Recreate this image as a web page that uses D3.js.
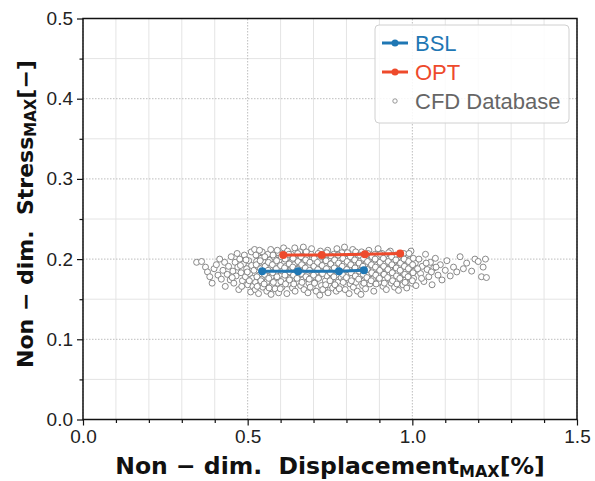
<!DOCTYPE html>
<html>
<head>
<meta charset="utf-8">
<script src="https://cdn.jsdelivr.net/npm/d3@7"></script>
<style>
  body { margin: 0; background: #fff; }
  svg { display: block; }
  .tick text { font-family: "Liberation Sans", Arial, sans-serif; font-size: 19px; fill: #222; }
</style>
</head>
<body>
<div id="main"></div>
<script>
// size of the page and the plot area
const width = 595;
const height = 481;
const margin = {left: 83, right: 18, top: 18.5, bottom: 61.5};

// tick values
const xMajor = [0.0, 0.5, 1.0, 1.5];
const xMinor = [0.1, 0.2, 0.3, 0.4, 0.6, 0.7, 0.8, 0.9, 1.1, 1.2, 1.3, 1.4];
const yMajor = [0.0, 0.1, 0.2, 0.3, 0.4, 0.5];
const yMinor = [0.05, 0.15, 0.25, 0.35, 0.45];

// baseline and optimised designs
const bslX = [0.544, 0.653, 0.777, 0.853];
const bslY = [0.185, 0.185, 0.185, 0.186];
const optX = [0.608, 0.725, 0.856, 0.963];
const optY = [0.205, 0.205, 0.206, 0.207];

// CFD database samples [displacement, stress]
const cfdLeft = [
  [0.345,0.196],[0.36,0.197],[0.372,0.190],[0.378,0.184],[0.385,0.178],[0.392,0.170],[0.398,0.188],
  [0.405,0.193],[0.41,0.180],[0.415,0.200],[0.42,0.175],[0.425,0.186],[0.43,0.196],[0.432,0.166],
  [0.438,0.181],[0.442,0.191],[0.447,0.174],[0.45,0.203],[0.455,0.185],[0.458,0.170],[0.462,0.196],
  [0.465,0.179],[0.47,0.190],[0.473,0.162],[0.476,0.200],[0.48,0.183],[0.484,0.173],[0.487,0.194],
  [0.49,0.205],[0.493,0.178],[0.497,0.188],[0.5,0.168],[0.503,0.198],[0.506,0.182],[0.509,0.159],
  [0.512,0.192],[0.515,0.176],[0.468,0.207],[0.482,0.166],[0.495,0.199],[0.505,0.173],[0.511,0.209],
  [0.453,0.177],[0.478,0.192],[0.499,0.184],[0.516,0.166]
];
const cfdCore = [
  [0.521,0.212],[0.524,0.171],[0.519,0.186],[0.527,0.197],[0.523,0.162],
  [0.531,0.204],[0.535,0.180],[0.530,0.191],[0.537,0.168],[0.533,0.157],
  [0.544,0.209],[0.547,0.186],[0.542,0.175],[0.549,0.196],[0.546,0.165],[0.541,0.201],
  [0.556,0.192],[0.559,0.172],[0.554,0.183],[0.561,0.206],[0.558,0.160],
  [0.568,0.199],[0.572,0.178],[0.566,0.188],[0.574,0.167],[0.570,0.212],[0.571,0.156],
  [0.581,0.194],[0.584,0.173],[0.579,0.203],[0.586,0.184],[0.583,0.163],
  [0.593,0.208],[0.597,0.189],[0.591,0.170],[0.598,0.179],[0.596,0.199],[0.594,0.158],
  [0.606,0.185],[0.609,0.214],[0.604,0.165],[0.611,0.195],[0.608,0.175],
  [0.618,0.201],[0.622,0.181],[0.616,0.191],[0.624,0.169],[0.621,0.210],[0.619,0.157],
  [0.631,0.187],[0.634,0.197],[0.629,0.176],[0.636,0.164],[0.633,0.206],
  [0.643,0.214],[0.647,0.182],[0.641,0.193],[0.649,0.171],[0.646,0.202],[0.644,0.160],
  [0.656,0.189],[0.659,0.178],[0.654,0.199],[0.661,0.167],[0.658,0.209],
  [0.668,0.195],[0.672,0.184],[0.666,0.174],[0.674,0.204],[0.671,0.162],[0.669,0.215],
  [0.681,0.180],[0.684,0.191],[0.679,0.201],[0.686,0.170],[0.683,0.158],
  [0.693,0.206],[0.697,0.186],[0.691,0.176],[0.698,0.196],[0.696,0.165],[0.694,0.213],
  [0.706,0.182],[0.709,0.192],[0.704,0.171],[0.711,0.202],[0.708,0.160],
  [0.718,0.198],[0.722,0.188],[0.716,0.177],[0.724,0.167],[0.721,0.210],[0.719,0.155],
  [0.731,0.184],[0.734,0.194],[0.729,0.204],[0.736,0.173],[0.733,0.163],
  [0.743,0.211],[0.747,0.190],[0.741,0.179],[0.749,0.200],[0.746,0.168],[0.744,0.158],
  [0.756,0.186],[0.759,0.196],[0.754,0.175],[0.761,0.206],[0.758,0.164],
  [0.768,0.202],[0.772,0.181],[0.766,0.192],[0.774,0.171],[0.771,0.213],[0.769,0.160],
  [0.781,0.188],[0.784,0.177],[0.779,0.198],[0.786,0.208],[0.783,0.166],
  [0.793,0.194],[0.797,0.184],[0.791,0.173],[0.798,0.204],[0.796,0.162],[0.794,0.215],
  [0.806,0.180],[0.809,0.190],[0.804,0.200],[0.811,0.169],[0.808,0.157],
  [0.818,0.207],[0.822,0.186],[0.816,0.176],[0.824,0.196],[0.821,0.165],[0.819,0.212],
  [0.831,0.182],[0.834,0.192],[0.829,0.171],[0.836,0.202],[0.833,0.160],
  [0.843,0.198],[0.847,0.188],[0.841,0.178],[0.849,0.167],[0.846,0.209],[0.844,0.156],
  [0.856,0.184],[0.859,0.194],[0.854,0.204],[0.861,0.173],[0.858,0.163],
  [0.868,0.211],[0.872,0.190],[0.866,0.180],[0.874,0.200],[0.871,0.169],
  [0.881,0.186],[0.884,0.196],[0.879,0.175],[0.886,0.206],[0.883,0.160],
  [0.893,0.202],[0.897,0.182],[0.891,0.192],[0.898,0.171],[0.896,0.213],
  [0.906,0.188],[0.909,0.178],[0.904,0.198],[0.911,0.166],[0.908,0.207],
  [0.918,0.194],[0.922,0.184],[0.916,0.174],[0.924,0.203],[0.921,0.162],
  [0.931,0.180],[0.934,0.190],[0.929,0.200],[0.936,0.170],[0.933,0.210],
  [0.943,0.196],[0.947,0.186],[0.941,0.176],[0.949,0.205],[0.946,0.165],
  [0.956,0.183],[0.959,0.192],[0.954,0.172],[0.961,0.201],[0.958,0.161],
  [0.968,0.197],[0.972,0.187],[0.966,0.177],[0.974,0.207],[0.971,0.168],
  [0.981,0.184],[0.984,0.193],[0.979,0.174],[0.986,0.202],[0.983,0.164],
  [0.993,0.190],[0.997,0.180],[0.991,0.199],[0.998,0.170],[0.996,0.210],
  [1.006,0.185],[1.009,0.195],[1.004,0.176],[1.011,0.167]
];
const cfdCoreB = [
  [0.526,0.193],[0.528,0.178],[0.525,0.205],[0.529,0.166],
  [0.539,0.188],[0.540,0.173],[0.538,0.198],[0.536,0.211],
  [0.551,0.181],[0.552,0.203],[0.550,0.169],[0.553,0.191],
  [0.563,0.196],[0.564,0.176],[0.562,0.186],[0.565,0.164],
  [0.576,0.183],[0.577,0.205],[0.575,0.193],[0.578,0.171],
  [0.588,0.198],[0.589,0.178],[0.587,0.188],[0.590,0.211],
  [0.600,0.192],[0.601,0.172],[0.602,0.203],[0.599,0.163],
  [0.613,0.180],[0.614,0.200],[0.612,0.189],[0.615,0.169],
  [0.626,0.194],[0.627,0.174],[0.625,0.206],[0.628,0.184],
  [0.638,0.201],[0.639,0.180],[0.637,0.190],[0.640,0.169],
  [0.651,0.187],[0.652,0.207],[0.650,0.176],[0.653,0.197],
  [0.663,0.182],[0.664,0.193],[0.662,0.203],[0.665,0.171],
  [0.676,0.199],[0.677,0.178],[0.675,0.189],[0.678,0.209],
  [0.688,0.186],[0.689,0.196],[0.687,0.175],[0.690,0.165],
  [0.701,0.191],[0.702,0.201],[0.700,0.180],[0.703,0.170],
  [0.713,0.187],[0.714,0.207],[0.712,0.196],[0.715,0.176],
  [0.726,0.192],[0.727,0.182],[0.725,0.203],[0.728,0.162],
  [0.738,0.198],[0.739,0.188],[0.737,0.168],[0.740,0.208],
  [0.751,0.183],[0.752,0.194],[0.750,0.173],[0.753,0.204],
  [0.763,0.189],[0.764,0.199],[0.762,0.178],[0.765,0.168],
  [0.776,0.195],[0.777,0.185],[0.775,0.205],[0.778,0.163],
  [0.788,0.181],[0.789,0.201],[0.787,0.191],[0.790,0.171],
  [0.801,0.187],[0.802,0.197],[0.800,0.177],[0.803,0.208],
  [0.813,0.193],[0.814,0.183],[0.812,0.203],[0.815,0.173],
  [0.826,0.189],[0.827,0.179],[0.825,0.199],[0.828,0.209],
  [0.838,0.195],[0.839,0.185],[0.837,0.175],[0.840,0.205],
  [0.851,0.181],[0.852,0.201],[0.850,0.191],[0.853,0.170],
  [0.863,0.187],[0.864,0.197],[0.862,0.177],[0.865,0.207],
  [0.876,0.193],[0.877,0.183],[0.875,0.173],[0.878,0.203],
  [0.888,0.190],[0.889,0.180],[0.887,0.200],[0.890,0.169],
  [0.901,0.186],[0.902,0.196],[0.900,0.176],[0.903,0.206],
  [0.913,0.191],[0.914,0.181],[0.912,0.201],[0.915,0.170],
  [0.926,0.187],[0.927,0.197],[0.925,0.177],[0.928,0.208],
  [0.938,0.193],[0.939,0.183],[0.937,0.203],[0.940,0.173],
  [0.951,0.189],[0.952,0.179],[0.950,0.199],[0.953,0.169],
  [0.963,0.186],[0.964,0.195],[0.962,0.176],[0.965,0.205],
  [0.976,0.191],[0.977,0.181],[0.975,0.200],[0.978,0.171],
  [0.988,0.188],[0.989,0.197],[0.987,0.178],[0.990,0.207],
  [1.001,0.193],[1.002,0.183],[1.000,0.173],[1.003,0.201]
];
const cfdRight = [
  [1.02,0.200],[1.025,0.182],[1.03,0.191],[1.035,0.172],[1.04,0.206],[1.045,0.187],[1.05,0.178],
  [1.055,0.196],[1.06,0.168],[1.065,0.189],[1.07,0.201],[1.078,0.180],[1.085,0.193],[1.09,0.174],
  [1.1,0.186],[1.105,0.198],[1.115,0.179],[1.125,0.190],[1.135,0.184],[1.145,0.203],[1.155,0.188],
  [1.165,0.195],[1.18,0.185],[1.19,0.200],[1.2,0.197],[1.21,0.178],[1.222,0.200],[1.225,0.177],
  [1.215,0.190],[1.016,0.188],[1.028,0.176],[1.042,0.195],[1.058,0.184],[1.072,0.190]
];
const cfd = cfdLeft.concat(cfdCore, cfdCoreB, cfdRight);

const bslColor = '#1f77b4';
const optColor = '#ee4a2c';

const svg = d3.select('#main').append('svg')
  .attr('width', width)
  .attr('height', height);

const xScale = d3.scaleLinear().domain([0, 1.5]).range([margin.left, width - margin.right]);
const yScale = d3.scaleLinear().domain([0, 0.5]).range([height - margin.bottom, margin.top]);

// grid lines, minor ones solid and major ones dotted
const grid = svg.append('g');
grid.selectAll('.vminor').data(xMinor).enter().append('line')
  .attr('x1', d => xScale(d)).attr('x2', d => xScale(d))
  .attr('y1', yScale(0)).attr('y2', yScale(0.5))
  .attr('stroke', '#e4e4e4').attr('stroke-width', 1);
grid.selectAll('.hminor').data(yMinor).enter().append('line')
  .attr('y1', d => yScale(d)).attr('y2', d => yScale(d))
  .attr('x1', xScale(0)).attr('x2', xScale(1.5))
  .attr('stroke', '#e4e4e4').attr('stroke-width', 1);
grid.selectAll('.vmajor').data(xMajor).enter().append('line')
  .attr('x1', d => xScale(d)).attr('x2', d => xScale(d))
  .attr('y1', yScale(0)).attr('y2', yScale(0.5))
  .attr('stroke', '#bdbdbd').attr('stroke-width', 1).attr('stroke-dasharray', '1.5,1.5');
grid.selectAll('.hmajor').data(yMajor).enter().append('line')
  .attr('y1', d => yScale(d)).attr('y2', d => yScale(d))
  .attr('x1', xScale(0)).attr('x2', xScale(1.5))
  .attr('stroke', '#bdbdbd').attr('stroke-width', 1).attr('stroke-dasharray', '1.5,1.5');

// axes
const xAxis = d3.axisBottom(xScale).tickValues(xMajor).tickFormat(d3.format('.1f')).tickSize(6).tickPadding(4);
const xAxisMinor = d3.axisBottom(xScale).tickValues(xMinor).tickFormat('').tickSize(3.5);
const yAxis = d3.axisLeft(yScale).tickValues(yMajor).tickFormat(d3.format('.1f')).tickSize(6).tickPadding(4);
const yAxisMinor = d3.axisLeft(yScale).tickValues(yMinor).tickFormat('').tickSize(3.5);

svg.append('g').attr('transform', 'translate(0,' + yScale(0) + ')').call(xAxis);
svg.append('g').attr('transform', 'translate(0,' + yScale(0) + ')').call(xAxisMinor);
svg.append('g').attr('transform', 'translate(' + xScale(0) + ',0)').call(yAxis);
svg.append('g').attr('transform', 'translate(' + xScale(0) + ',0)').call(yAxisMinor);
svg.selectAll('.domain').remove();
svg.selectAll('.tick line').attr('stroke', '#111').attr('stroke-width', 1.2);

// CFD database scatter
svg.append('g').selectAll('circle').data(cfd).enter().append('circle')
  .attr('cx', d => xScale(d[0]))
  .attr('cy', d => yScale(d[1]))
  .attr('r', 3)
  .attr('fill', '#fff')
  .attr('stroke', '#7c7c7c')
  .attr('stroke-width', 0.9);

// design lines
const drawSeries = (xs, ys, color) => {
  const pts = xs.map((x, i) => [x, ys[i]]);
  const line = d3.line().x(d => xScale(d[0])).y(d => yScale(d[1]));
  svg.append('path').datum(pts)
    .attr('d', line)
    .attr('fill', 'none')
    .attr('stroke', color)
    .attr('stroke-width', 3);
  svg.append('g').selectAll('circle').data(pts).enter().append('circle')
    .attr('cx', d => xScale(d[0]))
    .attr('cy', d => yScale(d[1]))
    .attr('r', 4)
    .attr('fill', color);
};
drawSeries(bslX, bslY, bslColor);
drawSeries(optX, optY, optColor);

// frame
svg.append('rect')
  .attr('x', xScale(0)).attr('y', yScale(0.5))
  .attr('width', xScale(1.5) - xScale(0))
  .attr('height', yScale(0) - yScale(0.5))
  .attr('fill', 'none')
  .attr('stroke', '#111')
  .attr('stroke-width', 1.5);

// legend
const legend = svg.append('g').attr('transform', 'translate(375,25)');
legend.append('rect')
  .attr('width', 194).attr('height', 98)
  .attr('rx', 4)
  .attr('fill', '#fff').attr('fill-opacity', 0.85)
  .attr('stroke', '#d0d0d0').attr('stroke-width', 1);
const legendItems = [
  {name: 'BSL', color: bslColor, y: 18, kind: 'line'},
  {name: 'OPT', color: optColor, y: 47, kind: 'line'},
  {name: 'CFD Database', color: '#666', y: 76, kind: 'dot'}
];
legendItems.forEach(item => {
  if (item.kind === 'line') {
    legend.append('line')
      .attr('x1', 7).attr('x2', 33).attr('y1', item.y).attr('y2', item.y)
      .attr('stroke', item.color).attr('stroke-width', 3);
    legend.append('circle').attr('cx', 20).attr('cy', item.y).attr('r', 3.5).attr('fill', item.color);
  } else {
    legend.append('circle').attr('cx', 20).attr('cy', item.y).attr('r', 2.2)
      .attr('fill', '#fff').attr('stroke', '#8a8a8a').attr('stroke-width', 0.9);
  }
  legend.append('text')
    .attr('x', 40).attr('y', item.y + 8)
    .attr('font-family', '"Liberation Sans", Arial, sans-serif')
    .attr('font-size', 22)
    .attr('fill', item.color)
    .text(item.name);
});

// axis titles
const xTitle = svg.append('text')
  .attr('x', 330)
  .attr('y', 474)
  .attr('text-anchor', 'middle')
  .attr('font-family', '"DejaVu Sans", sans-serif')
  .attr('font-weight', 'bold')
  .attr('font-size', 23.5)
  .attr('fill', '#111');
xTitle.append('tspan').text('Non \u2212 dim.\u00a0\u00a0Displacement');
xTitle.append('tspan').attr('font-size', 16).attr('dy', 3).text('MAX');
xTitle.append('tspan').attr('dy', -3).text('[%]');

const yTitle = svg.append('text')
  .attr('transform', 'translate(33,' + 214 + ') rotate(-90)')
  .attr('text-anchor', 'middle')
  .attr('font-family', '"DejaVu Sans", sans-serif')
  .attr('font-weight', 'bold')
  .attr('font-size', 22)
  .attr('fill', '#111');
yTitle.append('tspan').text('Non \u2212 dim.\u00a0\u00a0Stress');
yTitle.append('tspan').attr('font-size', 15).attr('dy', 3).text('MAX');
yTitle.append('tspan').attr('dy', -3).text('[\u2212]');
</script>
</body>
</html>
